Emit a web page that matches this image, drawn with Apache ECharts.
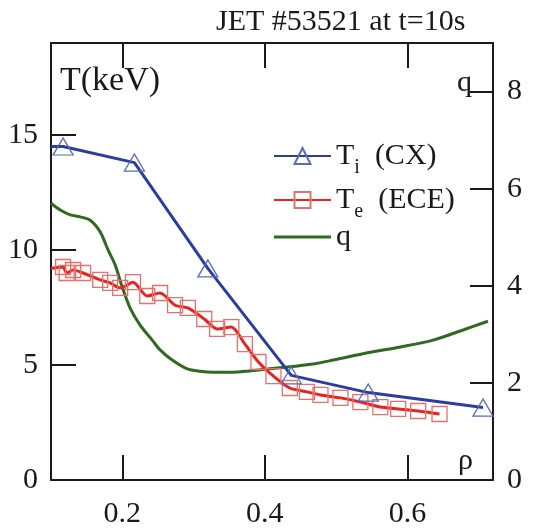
<!DOCTYPE html>
<html>
<head>
<meta charset="utf-8">
<script src="https://cdn.jsdelivr.net/npm/echarts@6/dist/echarts.min.js"></script>
<style>
  html, body { margin: 0; padding: 0; background: #fff; }
  #chart { width: 533px; height: 530px; }
</style>
</head>
<body>
<div id="chart"></div>
<script>
// Tick positions
const rhoTicks = [0.2, 0.4, 0.6];
const tempLabels = [0, 5, 10, 15];
const tempTicks = [5, 10, 15];
const qLabels = [0, 2, 4, 6, 8];
const qTicks = [2, 4, 6, 8];

// Ion temperature from charge exchange (keV)
const tiRho = [0.100, 0.117, 0.217, 0.320, 0.437, 0.545, 0.706];
const tiKeV = [14.5, 14.5, 13.8, 9.2, 4.55, 3.8, 3.15];

// Electron temperature from ECE (keV)
const teRho = [0.100, 0.117, 0.122, 0.131, 0.145, 0.169, 0.183, 0.197, 0.215, 0.235,
               0.253, 0.274, 0.292, 0.315, 0.333, 0.353, 0.372, 0.391, 0.412, 0.435,
               0.459, 0.478, 0.506, 0.534, 0.562, 0.587, 0.615, 0.645];
const teKeV = [9.2, 9.26, 9.0, 9.13, 9.0, 8.7, 8.57, 8.35, 8.6, 8.0,
               8.13, 7.6, 7.48, 7.0, 6.57, 6.65, 5.91, 5.13, 4.52, 4.0,
               3.83, 3.7, 3.57, 3.39, 3.17, 3.09, 3.0, 2.87];

// Safety factor profile
const qRho = [0.100, 0.113, 0.127, 0.141, 0.155, 0.169, 0.180, 0.190, 0.200, 0.211,
              0.225, 0.242, 0.253, 0.270, 0.291, 0.309, 0.327, 0.355, 0.375, 0.421,
              0.468, 0.496, 0.544, 0.590, 0.636, 0.678, 0.713];
const qVal = [5.70, 5.56, 5.46, 5.42, 5.35, 5.11, 4.74, 4.43, 3.97, 3.54,
              3.19, 2.88, 2.68, 2.47, 2.29, 2.24, 2.22, 2.22, 2.24, 2.31,
              2.39, 2.47, 2.62, 2.74, 2.88, 3.09, 3.27];

const SERIF = '"Liberation Serif", "Times New Roman", serif';
const INK = '#1a1a1a';
const FS = 30;

// first point sits on the left frame, drawn without a marker
function withMarkers(xs, ys) {
  return xs.map((x, i) => i === 0 ? { value: [x, ys[i]], symbol: 'none' } : [x, ys[i]]);
}

const chart = echarts.init(document.getElementById('chart'), null, { renderer: 'canvas' });

const frameLine = { show: true, onZero: false, lineStyle: { color: INK, width: 2 } };
const tickStyle = { color: INK, width: 2 };
const labelFont = { fontFamily: SERIF, fontSize: FS, color: INK };

chart.setOption({
  animation: false,
  backgroundColor: '#fff',
  grid: { left: 51, right: 40, top: 43, bottom: 50 },
  xAxis: [
    {
      type: 'value', position: 'bottom', min: 0.1, max: 0.72,
      axisLine: frameLine, splitLine: { show: false },
      axisTick: { show: true, inside: true, length: 25, lineStyle: tickStyle, customValues: rhoTicks },
      axisLabel: Object.assign({ customValues: rhoTicks, margin: 19, formatter: v => v.toFixed(1) }, labelFont)
    },
    {
      type: 'value', position: 'top', min: 0.1, max: 0.72,
      axisLine: frameLine, splitLine: { show: false },
      axisTick: { show: true, inside: true, length: 25, lineStyle: tickStyle, customValues: rhoTicks },
      axisLabel: { show: false }
    }
  ],
  yAxis: [
    {
      type: 'value', position: 'left', min: 0, max: 19,
      axisLine: frameLine, splitLine: { show: false },
      axisTick: { show: true, inside: true, length: 25, lineStyle: tickStyle, customValues: tempTicks },
      axisLabel: Object.assign({ customValues: tempLabels, margin: 13 }, labelFont)
    },
    {
      type: 'value', position: 'right', min: 0, max: 9,
      axisLine: frameLine, splitLine: { show: false },
      axisTick: { show: true, inside: true, length: 23, lineStyle: tickStyle, customValues: qTicks },
      axisLabel: Object.assign({ customValues: qLabels, margin: 14 }, labelFont)
    }
  ],
  legend: {
    orient: 'vertical', left: 273, top: 134, padding: 0, itemGap: 0,
    itemWidth: 57, itemHeight: 20, selectedMode: false,
    data: [
      { name: 'Ti (CX)' },
      { name: 'Te (ECE)' },
      { name: 'q', icon: 'path://M0,0L57,0L57,3L0,3Z', itemStyle: { color: '#2e6b20' } }
    ],
    formatter: function (n) {
      if (n === 'Ti (CX)') return '{a|T}{b|i}{a|  (CX)}';
      if (n === 'Te (ECE)') return '{a|T}{b|e}{a|  (ECE)}';
      return '{a|q}';
    },
    textStyle: {
      rich: {
        a: { fontFamily: SERIF, fontSize: FS, color: INK, lineHeight: 41 },
        b: { fontFamily: SERIF, fontSize: 20, color: INK, lineHeight: 41, padding: [24, 0, 0, 0] }
      }
    }
  },
  graphic: [
    { type: 'text', left: 216, top: 7, style: { text: 'JET #53521 at t=10s', font: FS + 'px ' + SERIF, fill: INK } },
    { type: 'text', left: 60, top: 64, style: { text: 'T(keV)', font: '34px ' + SERIF, fill: INK } },
    { type: 'text', left: 457, top: 68, style: { text: 'q', font: FS + 'px ' + SERIF, fill: INK } },
    { type: 'text', left: 458, top: 446, style: { text: 'ρ', font: FS + 'px ' + SERIF, fill: INK } }
  ],
  series: [
    {
      name: 'q', type: 'line', xAxisIndex: 0, yAxisIndex: 1,
      data: qRho.map((x, i) => [x, qVal[i]]),
      symbol: 'none', smooth: 0.3,
      itemStyle: { color: '#2e6b20' },
      lineStyle: { color: '#2e6b20', width: 3 }, z: 2
    },
    {
      name: 'Te (ECE)', type: 'line', xAxisIndex: 0, yAxisIndex: 0,
      data: withMarkers(teRho, teKeV),
      symbol: 'rect', symbolSize: 15, smooth: 0.25,
      itemStyle: { color: 'transparent', borderColor: '#e8706c', borderWidth: 1.3 },
      lineStyle: { color: '#e8241e', width: 3 }, z: 3
    },
    {
      name: 'Ti (CX)', type: 'line', xAxisIndex: 0, yAxisIndex: 0,
      data: withMarkers(tiRho, tiKeV),
      symbol: 'triangle', symbolSize: [20, 17],
      itemStyle: { color: 'transparent', borderColor: '#5a6bb4', borderWidth: 1.3 },
      lineStyle: { color: '#2b3d9f', width: 3 }, z: 4
    }
  ]
});
</script>
</body>
</html>
